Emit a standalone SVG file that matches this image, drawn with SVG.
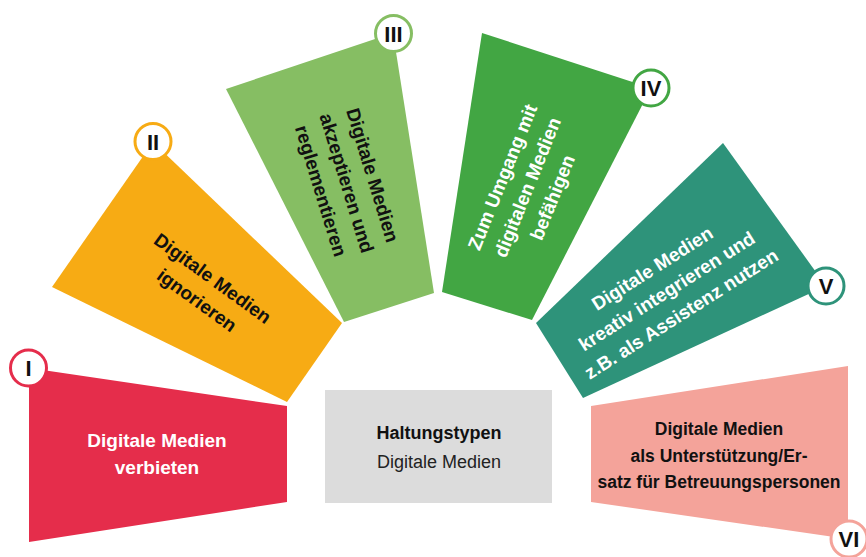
<svg xmlns="http://www.w3.org/2000/svg" width="866" height="557" viewBox="0 0 866 557">
<style>
  text { font-family: "Liberation Sans", Arial, "DejaVu Sans", sans-serif; }
  .lbl { font-weight: bold; font-size: 19px; text-anchor: middle; }
  .w { fill: #ffffff; }
  .k { fill: #111111; }
  .badge { fill: #ffffff; stroke-width: 3; }
  .num { font-weight: bold; font-size: 22px; text-anchor: middle; fill: #111111; }
</style>
<rect x="0" y="0" width="866" height="557" fill="#ffffff"/>

<g id="connectors"></g>

<g id="center">
  <rect x="325" y="390" width="227" height="113" fill="#dcdcdc"/>
  <text x="439" y="439" style="font-weight:bold;font-size:18px;text-anchor:middle;fill:#111">Haltungstypen</text>
  <text x="439" y="468" style="font-size:18px;text-anchor:middle;fill:#222">Digitale Medien</text>
</g>

<g id="node-I">
  <polygon points="29,368 287,406 287,502 29,542" fill="#e52d4b"/>
  <text class="lbl w" x="157" y="447">Digitale Medien</text>
  <text class="lbl w" x="157" y="474">verbieten</text>
  <circle class="badge" cx="28.5" cy="368" r="18" stroke="#e52d4b"/>
  <text class="num" x="28.5" y="376">I</text>
</g>

<g id="node-II">
  <polygon points="153,142 342,323 287,402 52,287" fill="#f7ab14"/>
  <g transform="translate(213,278) rotate(36)">
    <text class="lbl k" x="0" y="7">Digitale Medien</text>
    <text class="lbl k" x="0" y="34">ignorieren</text>
  </g>
  <circle class="badge" cx="153" cy="141.5" r="18" stroke="#f7ab14"/>
  <text class="num" x="153" y="149.5">II</text>
</g>

<g id="node-III">
  <polygon points="226,89 393,33 434,293 344,322" fill="#86be63"/>
  <g transform="translate(373,175) rotate(73)">
    <text class="lbl k" x="0" y="7">Digitale Medien</text>
    <text class="lbl k" x="0" y="34">akzeptieren und</text>
    <text class="lbl k" x="0" y="61">reglementieren</text>
  </g>
  <circle class="badge" cx="393.5" cy="33.5" r="18" stroke="#86be63"/>
  <text class="num" x="393.5" y="41.5">III</text>
</g>

<g id="node-IV">
  <polygon points="482,33 651,88 532,320 442,292" fill="#42a643"/>
  <g transform="translate(502,177) rotate(-68)">
    <text class="lbl w" x="0" y="7">Zum Umgang mit</text>
    <text class="lbl w" x="0" y="34">digitalen Medien</text>
    <text class="lbl w" x="0" y="61">befähigen</text>
  </g>
  <circle class="badge" cx="651" cy="88" r="18" stroke="#42a643"/>
  <text class="num" x="651" y="96">IV</text>
</g>

<g id="node-V">
  <polygon points="723,143 826,286 583,398 536,323" fill="#2e937a"/>
  <g transform="translate(652,268) rotate(-32.5)">
    <text class="lbl w" x="0" y="7">Digitale Medien</text>
    <text class="lbl w" x="0" y="34">kreativ integrieren und</text>
    <text class="lbl w" x="0" y="61">z.B. als Assistenz nutzen</text>
  </g>
  <circle class="badge" cx="826" cy="286" r="18" stroke="#2e937a"/>
  <text class="num" x="826" y="294">V</text>
</g>

<g id="node-VI">
  <polygon points="591,406 848,366 848,539 591,502" fill="#f4a39a"/>
  <text class="lbl k" x="719" y="435" style="font-size:17.5px">Digitale Medien</text>
  <text class="lbl k" x="719" y="462" style="font-size:17.5px">als Unterstützung/Er-</text>
  <text class="lbl k" x="719" y="488" style="font-size:17.5px">satz für Betreuungspersonen</text>
  <circle class="badge" cx="849" cy="539" r="18" stroke="#f4a39a"/>
  <text class="num" x="849" y="547">VI</text>
</g>
</svg>
